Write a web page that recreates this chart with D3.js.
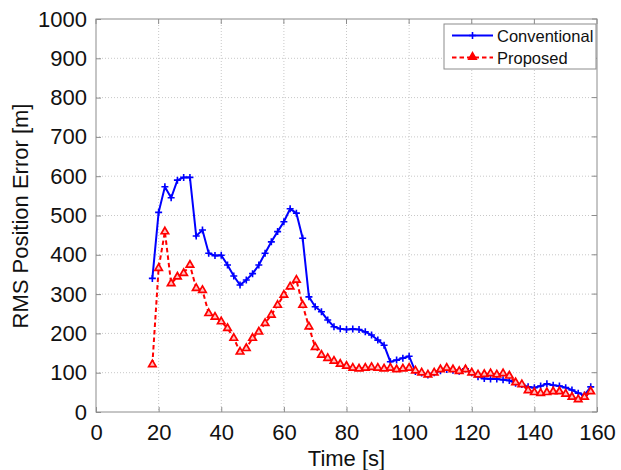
<!DOCTYPE html>
<html>
<head>
<meta charset="utf-8">
<script src="https://cdn.jsdelivr.net/npm/d3@7"></script>
<style>
  html, body { margin: 0; padding: 0; background: #fff; }
  svg { display: block; font-family: "Liberation Sans", Arial, sans-serif; }
</style>
</head>
<body>
<svg id="chart" width="621" height="470"></svg>
<script>
// ---- data ----
const time = d3.range(18, 159, 2); // 18..158 s
const conventional = [340, 508, 573, 545, 590, 597, 597, 448, 463, 404, 398, 399, 374, 346, 323,
  336, 352, 374, 404, 433, 459, 484, 517, 506, 442, 293, 268, 255, 234, 217,
  212, 210, 211, 210, 204, 196, 183, 170, 128, 132, 137, 142, 103, 99, 94,
  100, 105, 108, 106, 104, 110, 100, 90, 85, 84, 84, 82, 80, 73, 70,
  64, 62, 66, 72, 68, 66, 62, 56, 48, 43, 64];
const proposed = [121, 366, 459, 327, 344, 353, 374, 315, 310, 251, 242, 230, 213, 188, 153,
  162, 188, 204, 226, 247, 272, 298, 319, 336, 272, 217, 165, 145, 137, 130,
  122, 117, 112, 110, 112, 114, 112, 110, 112, 108, 110, 112, 105, 100, 95,
  100, 108, 112, 108, 104, 108, 100, 95, 96, 98, 95, 98, 92, 75, 70,
  55, 50, 48, 50, 52, 52, 46, 38, 32, 38, 52];
const xTicks = [0, 20, 40, 60, 80, 100, 120, 140, 160];
const yTicks = [0, 100, 200, 300, 400, 500, 600, 700, 800, 900, 1000];
const seriesNames = ["Conventional", "Proposed"];
const xTitle = "Time [s]";
const yTitle = "RMS Position Error [m]";

// ---- layout ----
const svg = d3.select("#chart");
const L = 96, R = 597, T = 19, B = 412;
const x = d3.scaleLinear().domain([0, 160]).range([L, R]);
const y = d3.scaleLinear().domain([0, 1000]).range([B, T]);
const axisColor = "#8c8c8c";
const fs = 22;

// grid
const grid = svg.append("g");
grid.selectAll("line.gx").data(xTicks.slice(1, -1)).enter().append("line")
  .attr("x1", d => x(d)).attr("x2", d => x(d)).attr("y1", T).attr("y2", B)
  .attr("stroke", "#c8c8c8").attr("stroke-width", 1).attr("stroke-dasharray", "1,2");
grid.selectAll("line.gy").data(yTicks.slice(1, -1)).enter().append("line")
  .attr("y1", d => y(d)).attr("y2", d => y(d)).attr("x1", L).attr("x2", R)
  .attr("stroke", "#c8c8c8").attr("stroke-width", 1).attr("stroke-dasharray", "1,2");

// axes via d3 axis generators
const xAxis = d3.axisBottom(x).tickValues(xTicks).tickSize(-5).tickPadding(12).tickFormat(d3.format("d"));
const yAxis = d3.axisLeft(y).tickValues(yTicks).tickSize(-5).tickPadding(9).tickFormat(d3.format("d"));
const gx = svg.append("g").attr("transform", `translate(0,${B})`).call(xAxis);
const gy = svg.append("g").attr("transform", `translate(${L},0)`).call(yAxis);
[gx, gy].forEach(g => {
  g.select(".domain").remove();
  g.selectAll(".tick line").attr("stroke", axisColor);
  g.selectAll(".tick text").attr("fill", "#111").style("font-size", fs + "px")
    .style("font-family", "'Liberation Sans', Arial, sans-serif");
});
gx.selectAll(".tick text").attr("dy", "0.71em");
// top/right ticks
svg.append("g").selectAll("line").data(xTicks).enter().append("line")
  .attr("x1", d => x(d)).attr("x2", d => x(d)).attr("y1", T).attr("y2", T + 5).attr("stroke", axisColor);
svg.append("g").selectAll("line").data(yTicks).enter().append("line")
  .attr("y1", d => y(d)).attr("y2", d => y(d)).attr("x1", R).attr("x2", R - 5).attr("stroke", axisColor);

// box
svg.append("rect").attr("x", L).attr("y", T).attr("width", R - L).attr("height", B - T)
  .attr("fill", "none").attr("stroke", axisColor).attr("stroke-width", 1);

// series
const cData = time.map((t, i) => [t, conventional[i]]);
const pData = time.map((t, i) => [t, proposed[i]]);
const line = d3.line().x(d => x(d[0])).y(d => y(d[1]));

const blue = "#0000ff", red = "#ff0000";
svg.append("path").datum(cData).attr("d", line).attr("fill", "none")
  .attr("stroke", blue).attr("stroke-width", 2);
const plus = (g, cx, cy, s) => {
  g.append("path").attr("d", `M${cx - s},${cy}H${cx + s}M${cx},${cy - s}V${cy + s}`)
    .attr("stroke", blue).attr("stroke-width", 1.6).attr("fill", "none");
};
const gC = svg.append("g");
cData.forEach(d => plus(gC, x(d[0]), y(d[1]), 3.5));

svg.append("path").datum(pData).attr("d", line).attr("fill", "none")
  .attr("stroke", red).attr("stroke-width", 2).attr("stroke-dasharray", "4.5,3");
const tri = d3.symbol().type(d3.symbolTriangle).size(24);
svg.append("g").selectAll("path").data(pData).enter().append("path")
  .attr("d", tri).attr("transform", d => `translate(${x(d[0])},${y(d[1])})`)
  .attr("fill", "#ffc0c0").attr("stroke", red).attr("stroke-width", 1.7);

// legend
const lg = svg.append("g");
lg.append("rect").attr("x", 444).attr("y", 24).attr("width", 152).attr("height", 45)
  .attr("fill", "#fff").attr("stroke", axisColor).attr("stroke-width", 1);
lg.append("line").attr("x1", 452).attr("x2", 493).attr("y1", 35.5).attr("y2", 35.5)
  .attr("stroke", blue).attr("stroke-width", 2);
plus(lg, 472.5, 35.5, 3.5);
lg.append("line").attr("x1", 452).attr("x2", 493).attr("y1", 57.5).attr("y2", 57.5)
  .attr("stroke", red).attr("stroke-width", 2).attr("stroke-dasharray", "4.5,3");
lg.append("path").attr("d", tri).attr("transform", "translate(472.5,57)")
  .attr("fill", red).attr("stroke", red).attr("stroke-width", 1.6);
lg.append("text").attr("x", 497).attr("y", 41.5).text(seriesNames[0])
  .style("font-size", "16.5px").attr("fill", "#111");
lg.append("text").attr("x", 497).attr("y", 63.5).text(seriesNames[1])
  .style("font-size", "16.5px").attr("fill", "#111");

// titles
svg.append("text").attr("x", (L + R) / 2).attr("y", 466).attr("text-anchor", "middle")
  .style("font-size", fs + "px").attr("fill", "#111").text(xTitle);
svg.append("text").attr("transform", `translate(28,216) rotate(-90)`).attr("text-anchor", "middle")
  .style("font-size", fs + "px").attr("fill", "#111").text(yTitle);
</script>
</body>
</html>
